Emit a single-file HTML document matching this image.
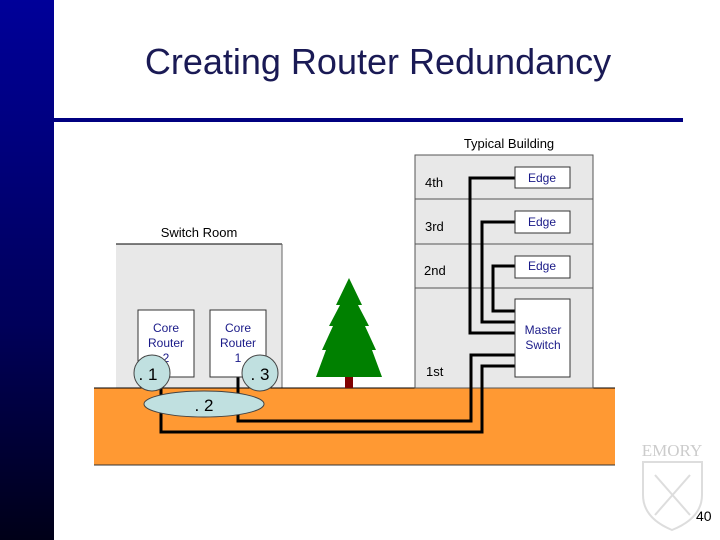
<!DOCTYPE html>
<html><head><style>
body{margin:0;width:720px;height:540px;overflow:hidden;background:#fff;font-family:"Liberation Sans",sans-serif;position:relative}
</style></head><body>
<div style="position:absolute;left:0;top:0;width:54px;height:540px;background:linear-gradient(#000099,#00005a 60%,#000018)"></div>
<div style="position:absolute;left:54px;top:118px;width:629px;height:4px;background:#000080"></div>
<div style="position:absolute;left:54px;width:648px;top:41px;text-align:center;font-size:36px;color:#1a1a55">Creating Router Redundancy</div>
<svg width="720" height="540" style="position:absolute;left:0;top:0" font-family="Liberation Sans, sans-serif">
<rect x="94" y="388" width="521" height="77" fill="#ff9933"/>
<rect x="116" y="244" width="166" height="144" fill="#e8e8e8"/>
<line x1="116" y1="244" x2="282" y2="244" stroke="#000"/>
<line x1="282" y1="244" x2="282" y2="388" stroke="#666"/>
<line x1="94" y1="388" x2="615" y2="388" stroke="#000"/>
<line x1="94" y1="465" x2="615" y2="465" stroke="#333"/>
<text x="199" y="237" font-size="13" text-anchor="middle">Switch Room</text>
<rect x="415" y="155" width="178" height="233" fill="#e8e8e8" stroke="#555"/>
<line x1="415" y1="199" x2="593" y2="199" stroke="#555"/>
<line x1="415" y1="244" x2="593" y2="244" stroke="#555"/>
<line x1="415" y1="288" x2="593" y2="288" stroke="#555"/>
<text x="509" y="148" font-size="13" text-anchor="middle">Typical Building</text>
<g font-size="13"><text x="425" y="187">4th</text><text x="425" y="231">3rd</text><text x="424" y="275">2nd</text><text x="426" y="376">1st</text></g>
<g fill="none" stroke="#000" stroke-width="3">
<polyline points="515,178 470,178 470,333 515,333"/>
<polyline points="515,222 482,222 482,322 515,322"/>
<polyline points="515,266 493,266 493,311 515,311"/>
<polyline points="161,377 161,432 482,432 482,366 515,366"/>
<polyline points="238,377 238,421 471,421 471,355 515,355"/>
</g>
<g fill="#fff" stroke="#333">
<rect x="515" y="167" width="55" height="21"/><rect x="515" y="211" width="55" height="22"/><rect x="515" y="256" width="55" height="22"/>
<rect x="515" y="299" width="55" height="78"/>
<rect x="138" y="310" width="56" height="67"/><rect x="210" y="310" width="56" height="67"/>
</g>
<g font-size="12" fill="#1a1a88" text-anchor="middle">
<text x="542" y="182">Edge</text><text x="542" y="226">Edge</text><text x="542" y="270">Edge</text>
<text x="543" y="334">Master</text><text x="543" y="349">Switch</text>
<text x="166" y="332">Core</text><text x="166" y="347">Router</text><text x="166" y="362">2</text>
<text x="238" y="332">Core</text><text x="238" y="347">Router</text><text x="238" y="362">1</text>
</g>
<g fill="#c0e0e0" stroke="#444">
<circle cx="152" cy="373" r="18"/><circle cx="260" cy="373" r="18"/>
<ellipse cx="204" cy="404" rx="60" ry="13"/>
</g>
<g font-size="17" text-anchor="middle"><text x="148" y="380">. 1</text><text x="260" y="380">. 3</text><text x="204" y="411">. 2</text></g>
<rect x="345" y="360" width="8" height="28" fill="#800000"/>
<polygon points="349,278 362,305 358,305 369,326 365,326 376,350 372,350 382,377 316,377 326,350 322,350 333,326 329,326 340,305 336,305" fill="#008000"/>
<text x="672" y="456" font-size="17" font-family="Liberation Serif, serif" fill="#ccc" text-anchor="middle">EMORY</text>
<path d="M643,462 L702,462 L702,495 Q702,518 672,530 Q643,518 643,495 Z" fill="none" stroke="#ddd" stroke-width="2"/>
<line x1="655" y1="475" x2="690" y2="515" stroke="#ddd" stroke-width="2"/>
<line x1="690" y1="475" x2="655" y2="515" stroke="#ddd" stroke-width="2"/>
<text x="696" y="521" font-size="14">40</text>
</svg>
</body></html>
